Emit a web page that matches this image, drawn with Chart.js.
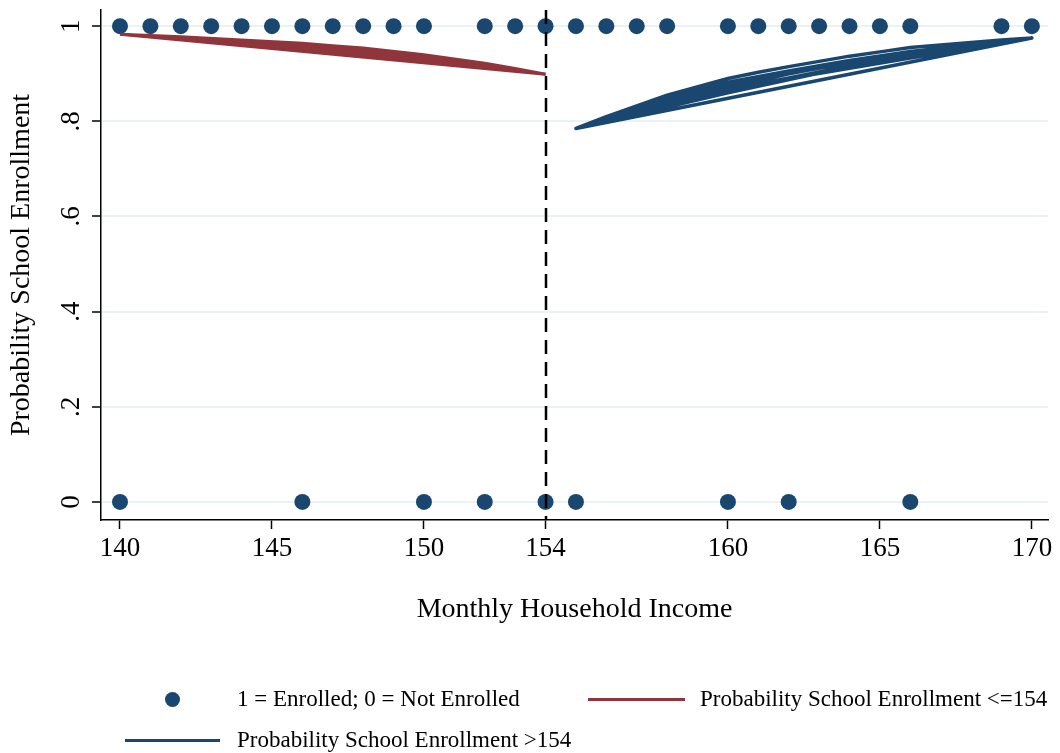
<!DOCTYPE html>
<html>
<head>
<meta charset="utf-8">
<script src="https://cdn.jsdelivr.net/npm/chart.js@4.4.1/dist/chart.umd.min.js"></script>
<style>
  body { margin: 0; background: #ffffff; }
  #wrap { position: relative; width: 1060px; height: 753px; font-family: "Liberation Serif", "Times New Roman", serif; color: #000; }
  #wrap canvas { position: absolute; left: 0; top: 0; }
  .key { position: absolute; }
  .key-text { position: absolute; font-size: 23px; line-height: 28px; white-space: nowrap; }
  .key-dot { width: 15px; height: 15px; border-radius: 50%; background: #1a476f; }
  .key-line { height: 3px; }
</style>
</head>
<body>
<div id="wrap">
  <canvas id="chart" width="1060" height="753"></canvas>
  <div class="key key-dot" style="left:165px; top:692px;"></div>
  <div class="key-text" style="left:237px; top:685px;">1 = Enrolled; 0 = Not Enrolled</div>
  <div class="key key-line" style="left:588px; top:698px; width:97px; background:#90353b;"></div>
  <div class="key-text" style="left:700px; top:685px;">Probability School Enrollment &lt;=154</div>
  <div class="key key-line" style="left:125px; top:739px; width:95px; background:#1a476f;"></div>
  <div class="key-text" style="left:237px; top:726px;">Probability School Enrollment &gt;154</div>
</div>
<script>
// Observed households: monthly income and enrollment outcome (1 = enrolled, 0 = not)
const obsIncome   = [140,141,142,143,144,145,146,147,148,149,150,152,153,154,155,156,157,158,160,161,162,163,164,165,166,169,170,
                     140,146,150,152,154,155,160,162,166];
const obsEnrolled = [1,1,1,1,1,1,1,1,1,1,1,1,1,1,1,1,1,1,1,1,1,1,1,1,1,1,1,
                     0,0,0,0,0,0,0,0,0];

// Fitted probability below the cutoff: upper and lower edges of the fitted band
const fitLowUpperIncome = [140,142,144,146,147,148,150,152,153,154];
const fitLowUpperProb   = [0.983,0.978,0.971,0.964,0.959,0.954,0.940,0.922,0.911,0.899];
const fitLowLowerIncome = [140,154];
const fitLowLowerProb   = [0.983,0.899];

// Fitted probability above the cutoff, in observation order (several overlapping fits)
const fitHighIncome = [155,156,158,160,161,162,163,164,165,166,169,170,
                       155,
                       156,158,160,162,164,166,170,
                       166,163,160,157,155,
                       160,165,170,
                       165,162,158,156,155,
                       158,162,166,170,
                       164,160,155];
const fitHighProb   = [0.785,0.810,0.855,0.890,0.903,0.915,0.926,0.937,0.946,0.955,0.971,0.975,
                       0.785,
                       0.806,0.848,0.882,0.906,0.928,0.947,0.975,
                       0.940,0.912,0.875,0.826,0.785,
                       0.866,0.929,0.975,
                       0.935,0.900,0.840,0.800,0.785,
                       0.835,0.890,0.933,0.975,
                       0.915,0.860,0.785];

const cutoff = 154;
const xTickValues = [140,145,150,154,160,165,170];
const yTickValues = [0,0.2,0.4,0.6,0.8,1];
const yTickLabels = ['0','.2','.4','.6','.8','1'];

const NAVY = '#1a476f';
const MAROON = '#90353b';
const SERIF = '"Liberation Serif", "Times New Roman", serif';

const pairs = (xs, ys) => xs.map((x, i) => ({ x: x, y: ys[i] }));

// Dashed vertical reference line at the income cutoff
const cutoffLine = {
  id: 'cutoffLine',
  afterDatasetsDraw(chart) {
    const { ctx, chartArea, scales } = chart;
    const px = Math.round(scales.x.getPixelForValue(cutoff));
    ctx.save();
    ctx.strokeStyle = '#000';
    ctx.lineWidth = 2.5;
    ctx.setLineDash([14, 8]);
    ctx.beginPath();
    ctx.moveTo(px, chartArea.top);
    ctx.lineTo(px, chartArea.bottom);
    ctx.stroke();
    ctx.restore();
  }
};

new Chart(document.getElementById('chart'), {
  type: 'scatter',
  data: {
    datasets: [
      {
        type: 'line',
        data: pairs(fitHighIncome, fitHighProb),
        borderColor: NAVY,
        borderWidth: 3.5,
        borderJoinStyle: 'round',
        pointRadius: 0,
        fill: false,
        tension: 0,
        order: 0
      },
      {
        type: 'line',
        data: pairs(fitLowUpperIncome, fitLowUpperProb),
        borderColor: MAROON,
        backgroundColor: MAROON,
        borderWidth: 3,
        pointRadius: 0,
        fill: '+1',
        tension: 0,
        order: 1
      },
      {
        type: 'line',
        data: pairs(fitLowLowerIncome, fitLowLowerProb),
        borderColor: MAROON,
        borderWidth: 3,
        pointRadius: 0,
        fill: false,
        tension: 0,
        order: 2
      },
      {
        data: pairs(obsIncome, obsEnrolled),
        backgroundColor: NAVY,
        borderWidth: 0,
        pointRadius: 8,
        pointHoverRadius: 8,
        order: 10
      }
    ]
  },
  options: {
    responsive: false,
    animation: false,
    devicePixelRatio: 1,
    layout: { padding: { left: 0, right: 12, top: 10, bottom: 123 } },
    plugins: { legend: { display: false }, tooltip: { enabled: false } },
    scales: {
      x: {
        type: 'linear',
        min: 139.375,
        max: 170.53,
        afterFit(scale) { scale.height = 110; scale.paddingLeft = 0; scale.paddingRight = 0; },
        afterBuildTicks(scale) { scale.ticks = xTickValues.map(v => ({ value: v })); },
        grid: { drawOnChartArea: false, drawTicks: true, tickLength: 9, tickWidth: 1.5, tickColor: '#000' },
        border: { display: true, color: '#000', width: 1.5 },
        ticks: { color: '#000', font: { family: SERIF, size: 27 }, padding: 4, maxRotation: 0, minRotation: 0,
                 callback: v => String(v) },
        title: { display: true, text: 'Monthly Household Income', color: '#000',
                 font: { family: SERIF, size: 28 }, padding: { top: 0, bottom: 4 } }
      },
      y: {
        type: 'linear',
        min: -0.038,
        max: 1.034,
        afterFit(scale) { scale.width = 101; scale.paddingTop = 0; scale.paddingBottom = 0; },
        afterBuildTicks(scale) { scale.ticks = yTickValues.map(v => ({ value: v })); },
        grid: { drawOnChartArea: true, color: '#eaf2f3', lineWidth: 2, drawTicks: true, tickLength: 9,
                tickWidth: 1.5, tickColor: '#000' },
        border: { display: true, color: '#000', width: 1.5 },
        ticks: { color: '#000', font: { family: SERIF, size: 27 }, padding: 10, minRotation: 90, maxRotation: 90,
                 crossAlign: 'center',
                 callback: (v, i) => yTickLabels[i] },
        title: { display: true, text: 'Probability School Enrollment', color: '#000',
                 font: { family: SERIF, size: 28 }, padding: { top: 5, bottom: 0 } }
      }
    }
  },
  plugins: [cutoffLine]
});
</script>
</body>
</html>
